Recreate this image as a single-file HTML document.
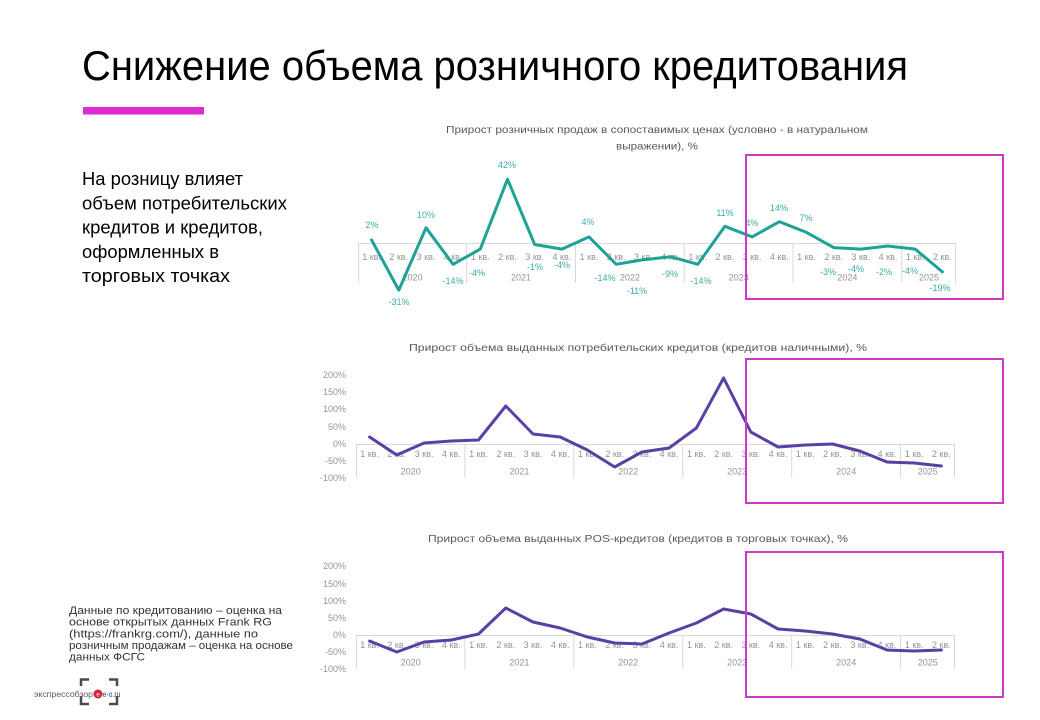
<!DOCTYPE html>
<html>
<head>
<meta charset="utf-8">
<style>
  html,body{margin:0;padding:0;background:#fff;}
  svg{display:block;}
  text{font-family:"Liberation Sans","DejaVu Sans",sans-serif;}
</style>
</head>
<body>
<svg width="1040" height="720" viewBox="0 0 1040 720" xmlns="http://www.w3.org/2000/svg">
  <rect x="0" y="0" width="1040" height="720" fill="#ffffff"/>

  <!-- Title -->
  <text x="82" y="80" font-size="41.5" fill="#000" textLength="826" lengthAdjust="spacingAndGlyphs">Снижение объема розничного кредитования</text>
  <rect x="83" y="107" width="121" height="7.5" fill="#dd2bd2"/>

  <!-- Left paragraph -->
  <g font-size="18" fill="#000">
    <text x="82" y="185" textLength="161" lengthAdjust="spacingAndGlyphs">На розницу влияет</text>
    <text x="82" y="209.3" textLength="205" lengthAdjust="spacingAndGlyphs">объем потребительских</text>
    <text x="82" y="233.6" textLength="181" lengthAdjust="spacingAndGlyphs">кредитов и кредитов,</text>
    <text x="82" y="257.9" textLength="137" lengthAdjust="spacingAndGlyphs">оформленных в</text>
    <text x="82" y="282.2" textLength="148" lengthAdjust="spacingAndGlyphs">торговых точках</text>
  </g>

  <!-- ============ CHART 1 ============ -->
  <g fill="#595959" font-size="10.5">
    <text x="446" y="133" textLength="422" lengthAdjust="spacingAndGlyphs">Прирост розничных продаж в сопоставимых ценах (условно - в натуральном</text>
    <text x="616" y="149.5" textLength="82" lengthAdjust="spacingAndGlyphs">выражении), %</text>
  </g>
  <g stroke="#d9d9d9" stroke-width="1" fill="none">
    <line x1="358" y1="243.5" x2="956" y2="243.5"/>
    <line x1="358.5" y1="243" x2="358.5" y2="283"/>
    <line x1="466.7" y1="243" x2="466.7" y2="283"/>
    <line x1="575.5" y1="243" x2="575.5" y2="283"/>
    <line x1="684.3" y1="243" x2="684.3" y2="283"/>
    <line x1="793" y1="243" x2="793" y2="283"/>
    <line x1="901.8" y1="243" x2="901.8" y2="283"/>
    <line x1="955.5" y1="243" x2="955.5" y2="283"/>
  </g>
  <g fill="#939393" font-size="9" text-anchor="middle">
    <text x="371.6" y="260">1 кв.</text><text x="398.8" y="260">2 кв.</text><text x="426.0" y="260">3 кв.</text><text x="453.1" y="260">4 кв.</text>
    <text x="480.3" y="260">1 кв.</text><text x="507.5" y="260">2 кв.</text><text x="534.7" y="260">3 кв.</text><text x="561.9" y="260">4 кв.</text>
    <text x="589.0" y="260">1 кв.</text><text x="616.2" y="260">2 кв.</text><text x="643.4" y="260">3 кв.</text><text x="670.6" y="260">4 кв.</text>
    <text x="697.8" y="260">1 кв.</text><text x="724.9" y="260">2 кв.</text><text x="752.1" y="260">3 кв.</text><text x="779.3" y="260">4 кв.</text>
    <text x="806.5" y="260">1 кв.</text><text x="833.7" y="260">2 кв.</text><text x="860.8" y="260">3 кв.</text><text x="888.0" y="260">4 кв.</text>
    <text x="915.2" y="260">1 кв.</text><text x="942.4" y="260">2 кв.</text>
    <text x="412.5" y="280.5">2020</text><text x="521" y="280.5">2021</text><text x="630" y="280.5">2022</text>
    <text x="738.7" y="280.5">2023</text><text x="847.4" y="280.5">2024</text><text x="929" y="280.5">2025</text>
  </g>
  <polyline fill="none" stroke="#1fa296" stroke-width="3" stroke-linejoin="round" stroke-linecap="round"
    points="371.6,240 398.8,290.1 426.0,227.8 453.1,264.3 480.3,249.1 507.5,179.2 534.7,244.5 561.9,249.1 589.0,236.9 616.2,264.3 643.4,259.7 670.6,256.7 697.8,264.3 724.9,226.3 752.1,236.9 779.3,221.7 806.5,232.4 833.7,247.6 860.8,249.1 888.0,246.0 915.2,249.1 942.4,271.9"/>
  <g fill="#3aaea4" font-size="9" text-anchor="middle">
    <text x="372" y="228">2%</text>
    <text x="399" y="305">-31%</text>
    <text x="426" y="218">10%</text>
    <text x="453" y="284">-14%</text>
    <text x="477" y="276">-4%</text>
    <text x="507" y="168">42%</text>
    <text x="535" y="270">-1%</text>
    <text x="562" y="268">-4%</text>
    <text x="588" y="225">4%</text>
    <text x="605" y="281">-14%</text>
    <text x="637" y="294">-11%</text>
    <text x="670" y="277">-9%</text>
    <text x="701" y="284">-14%</text>
    <text x="725" y="216">11%</text>
    <text x="752" y="226">4%</text>
    <text x="779" y="211">14%</text>
    <text x="806" y="221">7%</text>
    <text x="828" y="275">-3%</text>
    <text x="856" y="272">-4%</text>
    <text x="884" y="275">-2%</text>
    <text x="910" y="274">-4%</text>
    <text x="940" y="291">-19%</text>
  </g>
  <rect x="746" y="155" width="257" height="144" fill="none" stroke="#cd38c9" stroke-width="2"/>

  <!-- ============ CHART 2 ============ -->
  <text x="409" y="351" fill="#595959" font-size="10.5" textLength="458" lengthAdjust="spacingAndGlyphs">Прирост объема выданных потребительских кредитов (кредитов наличными), %</text>
  <g fill="#939393" font-size="9" text-anchor="end">
    <text x="346" y="378">200%</text>
    <text x="346" y="395">150%</text>
    <text x="346" y="412">100%</text>
    <text x="346" y="430">50%</text>
    <text x="346" y="447">0%</text>
    <text x="346" y="464">-50%</text>
    <text x="346" y="481">-100%</text>
  </g>
  <g stroke="#d9d9d9" stroke-width="1" fill="none">
    <line x1="356" y1="444.5" x2="955" y2="444.5"/>
    <line x1="356.5" y1="444" x2="356.5" y2="478"/>
    <line x1="464.9" y1="444" x2="464.9" y2="478"/>
    <line x1="573.8" y1="444" x2="573.8" y2="478"/>
    <line x1="682.8" y1="444" x2="682.8" y2="478"/>
    <line x1="791.7" y1="444" x2="791.7" y2="478"/>
    <line x1="900.6" y1="444" x2="900.6" y2="478"/>
    <line x1="954.5" y1="444" x2="954.5" y2="478"/>
  </g>
  <g fill="#939393" font-size="9" text-anchor="middle">
    <text x="369.6" y="457">1 кв.</text><text x="396.8" y="457">2 кв.</text><text x="424.1" y="457">3 кв.</text><text x="451.3" y="457">4 кв.</text>
    <text x="478.5" y="457">1 кв.</text><text x="505.8" y="457">2 кв.</text><text x="533.0" y="457">3 кв.</text><text x="560.2" y="457">4 кв.</text>
    <text x="587.4" y="457">1 кв.</text><text x="614.7" y="457">2 кв.</text><text x="641.9" y="457">3 кв.</text><text x="669.1" y="457">4 кв.</text>
    <text x="696.4" y="457">1 кв.</text><text x="723.6" y="457">2 кв.</text><text x="750.8" y="457">3 кв.</text><text x="778.1" y="457">4 кв.</text>
    <text x="805.3" y="457">1 кв.</text><text x="832.5" y="457">2 кв.</text><text x="859.8" y="457">3 кв.</text><text x="887.0" y="457">4 кв.</text>
    <text x="914.2" y="457">1 кв.</text><text x="941.4" y="457">2 кв.</text>
    <text x="410.7" y="474.5">2020</text><text x="519.4" y="474.5">2021</text><text x="628.3" y="474.5">2022</text>
    <text x="737.2" y="474.5">2023</text><text x="846.2" y="474.5">2024</text><text x="927.8" y="474.5">2025</text>
  </g>
  <polyline fill="none" stroke="#5a40a3" stroke-width="3" stroke-linejoin="round" stroke-linecap="round"
    points="369.6,437 396.8,455 424.1,443 451.3,441 478.5,440 505.8,406 533.0,434 560.2,437 587.4,450 614.7,467 641.9,452 669.1,448 696.4,428 723.6,378 750.8,432 778.1,447 805.3,445 832.5,444 859.8,451 887.0,462 914.2,463 941.4,466"/>
  <rect x="746" y="359" width="257" height="144" fill="none" stroke="#cd38c9" stroke-width="2"/>

  <!-- ============ CHART 3 ============ -->
  <text x="428" y="542" fill="#595959" font-size="10.5" textLength="420" lengthAdjust="spacingAndGlyphs">Прирост объема выданных POS-кредитов (кредитов в торговых точках), %</text>
  <g fill="#939393" font-size="9" text-anchor="end">
    <text x="346" y="569">200%</text>
    <text x="346" y="587">150%</text>
    <text x="346" y="604">100%</text>
    <text x="346" y="621">50%</text>
    <text x="346" y="638">0%</text>
    <text x="346" y="655">-50%</text>
    <text x="346" y="672">-100%</text>
  </g>
  <g stroke="#d9d9d9" stroke-width="1" fill="none">
    <line x1="356" y1="635.5" x2="955" y2="635.5"/>
    <line x1="356.5" y1="635" x2="356.5" y2="669"/>
    <line x1="464.9" y1="635" x2="464.9" y2="669"/>
    <line x1="573.8" y1="635" x2="573.8" y2="669"/>
    <line x1="682.8" y1="635" x2="682.8" y2="669"/>
    <line x1="791.7" y1="635" x2="791.7" y2="669"/>
    <line x1="900.6" y1="635" x2="900.6" y2="669"/>
    <line x1="954.5" y1="635" x2="954.5" y2="669"/>
  </g>
  <g fill="#939393" font-size="9" text-anchor="middle">
    <text x="369.6" y="648">1 кв.</text><text x="396.8" y="648">2 кв.</text><text x="424.1" y="648">3 кв.</text><text x="451.3" y="648">4 кв.</text>
    <text x="478.5" y="648">1 кв.</text><text x="505.8" y="648">2 кв.</text><text x="533.0" y="648">3 кв.</text><text x="560.2" y="648">4 кв.</text>
    <text x="587.4" y="648">1 кв.</text><text x="614.7" y="648">2 кв.</text><text x="641.9" y="648">3 кв.</text><text x="669.1" y="648">4 кв.</text>
    <text x="696.4" y="648">1 кв.</text><text x="723.6" y="648">2 кв.</text><text x="750.8" y="648">3 кв.</text><text x="778.1" y="648">4 кв.</text>
    <text x="805.3" y="648">1 кв.</text><text x="832.5" y="648">2 кв.</text><text x="859.8" y="648">3 кв.</text><text x="887.0" y="648">4 кв.</text>
    <text x="914.2" y="648">1 кв.</text><text x="941.4" y="648">2 кв.</text>
    <text x="410.7" y="665.5">2020</text><text x="519.4" y="665.5">2021</text><text x="628.3" y="665.5">2022</text>
    <text x="737.2" y="665.5">2023</text><text x="846.2" y="665.5">2024</text><text x="927.8" y="665.5">2025</text>
  </g>
  <polyline fill="none" stroke="#5a40a3" stroke-width="3" stroke-linejoin="round" stroke-linecap="round"
    points="369.6,641 396.8,652 424.1,642 451.3,640 478.5,634 505.8,608 533.0,622 560.2,628 587.4,637 614.7,643 641.9,644 669.1,633 696.4,623 723.6,609 750.8,614 778.1,629 805.3,631 832.5,634 859.8,639 887.0,650 914.2,651 941.4,650"/>
  <rect x="746" y="552" width="257" height="145" fill="none" stroke="#cd38c9" stroke-width="2"/>

  <!-- Footnote -->
  <g fill="#333333" font-size="11">
    <text x="69" y="614" textLength="213" lengthAdjust="spacingAndGlyphs">Данные по кредитованию – оценка на</text>
    <text x="69" y="625.7" textLength="203" lengthAdjust="spacingAndGlyphs">основе открытых данных Frank RG</text>
    <text x="69" y="637.3" textLength="189" lengthAdjust="spacingAndGlyphs">(https://frankrg.com/), данные по</text>
    <text x="69" y="649" textLength="224" lengthAdjust="spacingAndGlyphs">розничным продажам – оценка на основе</text>
    <text x="69" y="660.7" textLength="76" lengthAdjust="spacingAndGlyphs">данных ФСГС</text>
  </g>

  <!-- Logo -->
  <g stroke="#4a4a4a" stroke-width="2.5" fill="none">
    <path d="M81,686 V679.5 H89"/>
    <path d="M109,679.5 H117 V686"/>
    <path d="M81,696 V704 H89"/>
    <path d="M109,704 H117 V696"/>
  </g>
  <text x="34" y="697" font-size="8.5" fill="#5a5a5a" textLength="59" lengthAdjust="spacingAndGlyphs">экспрессобзор</text>
  <circle cx="98" cy="694" r="4.5" fill="#d8243c"/>
  <text x="98" y="696.5" font-size="6" fill="#fff" text-anchor="middle">e</text>
  <text x="102.5" y="697" font-size="8.5" fill="#2b3f7e" textLength="18" lengthAdjust="spacingAndGlyphs">e-o.ru</text>
</svg>
</body>
</html>
